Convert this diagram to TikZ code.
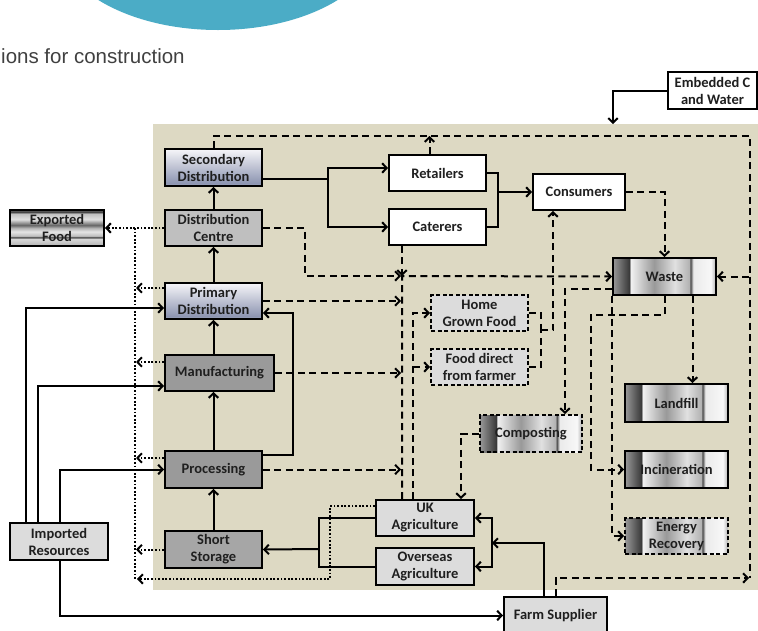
\documentclass[tikz,border=0pt]{standalone}
\usepackage{fontspec}
\setmainfont{Carlito}
\newfontfamily\headfont{Liberation Sans}
\usetikzlibrary{arrows.meta,calc}

\definecolor{panel}{HTML}{DDD9C3}
\definecolor{capblue}{HTML}{4BACC6}
\definecolor{headgray}{HTML}{404040}
\definecolor{boxlight}{HTML}{DCDCDC}
\definecolor{boxmid}{HTML}{BFBFBF}
\definecolor{boxdark}{HTML}{9A9A9A}
\definecolor{boxstore}{HTML}{A6A6A6}
\definecolor{distlo}{HTML}{8E96B2}
\definecolor{distmid}{HTML}{BDC1D2}
\definecolor{disthi}{HTML}{F6F6F9}

% brushed-metal bands (left to right)
\pgfdeclarehorizontalshading{metal}{100bp}{%
  color(0bp)=(black!40); color(25bp)=(black!40); color(33bp)=(black!78);
  color(33.5bp)=(black!5); color(45bp)=(black!40); color(55bp)=(black!12);
  color(62bp)=(black!30); color(62.6bp)=(black!72); color(64bp)=(black!8);
  color(72.5bp)=(black!3); color(75bp)=(black!30); color(100bp)=(black!30)}
% horizontal stripes (bottom to top)
\pgfdeclareverticalshading{stripes}{100bp}{%
  color(0bp)=(black!30); color(25bp)=(black!30); color(35bp)=(black!15);
  color(37bp)=(black!75); color(39bp)=(black!25); color(45bp)=(black!10);
  color(50bp)=(black!30); color(54bp)=(black!60); color(62bp)=(black!12);
  color(70bp)=(black!25); color(72bp)=(black!75); color(75bp)=(black!60);
  color(100bp)=(black!60)}
% pale blue steel, light at the top
\pgfdeclareverticalshading{distshade}{100bp}{%
  color(0bp)=(distlo); color(25bp)=(distlo!85!white); color(29bp)=(distlo);
  color(50bp)=(distmid); color(75bp)=(disthi); color(100bp)=(disthi)}

\tikzset{
  box/.style={draw=black, line width=1.9pt, inner sep=0pt, align=center,
    font=\fontsize{14.5}{17}\selectfont\bfseries, text=black!88},
  plainbox/.style={box, fill=white},
  lightbox/.style={box, fill=boxlight},
  midbox/.style={box, fill=boxmid},
  darkbox/.style={box, fill=boxdark},
  storebox/.style={box, fill=boxstore},
  distbox/.style={box, shade, shading=distshade},
  metalbox/.style={box, shade, shading=metal},
  stripebox/.style={box, shade, shading=stripes},
  dashbox/.style={dash pattern=on 4pt off 2.5pt},
  link/.style={line width=2pt},
  tip/.style={-{Straight Barb[length=4.5pt,width=9.5pt]}},
  flow/.style={link, tip},
  waste/.style={link, dash pattern=on 7pt off 4.5pt},
  wflow/.style={waste, tip},
  export/.style={link, dash pattern=on 1.8pt off 1.8pt},
  xflow/.style={export, tip},
}

% box given by its corners: style, name, x1, y1, x2, y2, text
\newcommand{\bx}[7]{%
  \pgfmathsetmacro\bxw{#5-#3}%
  \pgfmathsetmacro\bxh{#6-#4}%
  \node[#1, minimum width=\bxw pt, minimum height=\bxh pt] (#2)
    at ({(#3+#5)/2},{(#4+#6)/2}) {#7};}

\begin{document}
\begin{tikzpicture}[x=1pt,y=-1pt]
\useasboundingbox (0,0) rectangle (758,630);
\clip (0,0) rectangle (758,630);

% heading strip
\fill[capblue] (218,-62) ellipse [x radius=162, y radius=92];
\node[anchor=base west, inner sep=0pt, text=headgray,
  font=\headfont\fontsize{20.5}{24}\selectfont] (head) at (1,63) {ions for construction};

% system boundary
\fill[panel] (153,124) rectangle (758,590);

% nodes
\bx{distbox}{sec}{165}{149}{262}{186}{Secondary\\Distribution}
\bx{midbox}{dc}{165}{210}{262}{246}{Distribution\\Centre}
\bx{distbox}{pd}{165}{283}{262}{319}{Primary\\Distribution}
\bx{darkbox}{man}{165}{355}{274}{391}{Manufacturing}
\bx{darkbox}{proc}{165}{451}{262}{488}{Processing}
\bx{storebox}{ss}{165}{531}{262}{568}{Short\\Storage}
\bx{stripebox}{exp}{10}{210}{104}{246}{Exported\\Food}
\bx{lightbox}{imp}{10}{523}{108}{560}{Imported\\Resources}
\bx{plainbox}{ret}{389}{155}{486}{191}{Retailers}
\bx{plainbox}{cat}{389}{209}{486}{245}{Caterers}
\bx{plainbox}{con}{533}{174}{625}{210}{Consumers}
\bx{metalbox}{waste}{613}{258}{716}{295}{Waste}
\bx{metalbox}{land}{625}{384}{728}{422}{Landfill}
\bx{metalbox}{inc}{625}{451}{728}{488}{Incineration}
\bx{metalbox,dashbox}{er}{625}{518}{728}{554}{Energy\\Recovery}
\bx{metalbox,dashbox}{comp}{480}{415}{582}{452}{Composting}
\bx{lightbox,dashbox}{hg}{431}{295}{528}{331}{Home\\Grown Food}
\bx{lightbox,dashbox}{fd}{431}{349}{528}{385}{Food direct\\from farmer}
\bx{lightbox}{uk}{376}{500}{474}{536}{UK\\Agriculture}
\bx{lightbox}{os}{376}{548}{474}{585}{Overseas\\Agriculture}
\bx{lightbox}{farm}{504}{597}{607}{634}{Farm Supplier}
\bx{plainbox}{emb}{668}{72}{757}{109}{Embedded C\\and Water}

% junction points
\coordinate (sj) at (328,179);
\coordinate (rc) at (498,192);
\coordinate (j)  at (402,276);
\coordinate (hx) at (413,0);
\coordinate (gj) at (541,330);
\coordinate (tr) at (750,136);
\coordinate (br) at (750,578);
\coordinate (fa) at (492,543);
\coordinate (us) at (319,549);
\coordinate (dx) at (135,0);
\coordinate (cb) at (330,579);

% main supply chain
\draw[flow] (ss.north) -- (proc.south);
\draw[flow] (proc.north) -- (proc.north |- man.south);
\draw[flow] (pd.south |- man.north) -- (pd.south);
\draw[flow] (pd.north) -- (dc.south);
\draw[flow] (dc.north) -- (sec.south);
\draw[flow] ([yshift=14.5pt]proc.east) -- ++(30,0) |- ([yshift=-12pt]pd.east);

\draw[link] ([yshift=-11.5pt]sec.east) -- (sj);
\draw[flow] (sj) |- ([yshift=5pt]ret.west);
\draw[flow] (sj) |- (cat.west);
\draw[link] (ret.east) -| (rc) |- (cat.east);
\draw[flow] (rc) -- (con.west);

\draw[link] (uk.west) -| (us);
\draw[link] (os.west) -| (us);
\draw[flow] (us) -- (ss.east);

\draw[flow] ([xshift=-12pt]farm.north) |- (fa);
\draw[flow] (fa) |- (uk.east);
\draw[flow] (fa) |- (os.east);

% imported resources
\draw[flow] ([xshift=-33pt]imp.north) |- ([yshift=-7pt]pd.west);
\draw[flow] ([xshift=-21pt]imp.north) |- ([yshift=-13pt]man.west);
\draw[flow] ([xshift=1pt]imp.north) |- (proc.west);
\draw[flow] ([xshift=1pt]imp.south) |- (farm.west);

% embedded carbon and water
\draw[flow] (emb.west) -| (613,124);

% exports
\draw[xflow] (dc.west) -- (exp.east);
\draw[export] (dx |- dc.west) -- (dx |- cb);
\draw[xflow] ([yshift=13pt]pd.west) -- ++(-28,0);
\draw[xflow] ([yshift=11pt]man.west) -- ++(-28,0);
\draw[xflow] ([yshift=11.5pt]proc.west) -- ++(-28,0);
\draw[xflow] (ss.west) -- ++(-28,0);
\draw[xflow] ([yshift=12pt]uk.west) -| (cb) -- ([xshift=2pt]dx |- cb);

% waste streams
\draw[wflow] (sec.north) |- (tr) |- (waste.east);
\draw[waste] (tr |- waste.east) -- (br);
\draw[wflow] (farm.north) |- ([xshift=-1pt]br);
\draw[wflow] ([xshift=-8pt]ret.north) -- ([xshift=-8pt]ret.north |- tr);
\draw[wflow] (dc.east) -| (305,276) -- ([xshift=-1pt]j);
\draw[wflow] ([xshift=-35.5pt]cat.south) -- (j);
\draw[wflow] (j |- uk.north) -- (j) -- (waste.west);
\draw[wflow] (pd.east) -- ([xshift=-1pt]pd.east -| j);
\draw[wflow] (man.east) -- ([xshift=-1pt]man.east -| j);
\draw[wflow] (proc.east) -- ([xshift=-1pt]proc.east -| j);

\draw[wflow] (hx |- uk.north) |- (hg.west);
\draw[wflow] (hx |- fd.west) -- (fd.west);
\draw[waste] (hg.east) -| (gj);
\draw[waste] (fd.east) -| (gj);
\draw[wflow] (gj) -| ([xshift=-26pt]con.south);

\draw[wflow] (con.east) -| (waste.north);
\draw[wflow] ([xshift=28pt]waste.south) -- ([xshift=28pt]waste.south |- land.north);
\draw[wflow] ([yshift=-12.5pt]waste.west) -| ([xshift=34pt]comp.north);
\draw[wflow] (waste.south) |- (591,315) |- (inc.west);
\draw[wflow] (waste.south west) |- (er.west);
\draw[wflow] (comp.west) -| ([xshift=36pt]uk.north);
\end{tikzpicture}
\end{document}
